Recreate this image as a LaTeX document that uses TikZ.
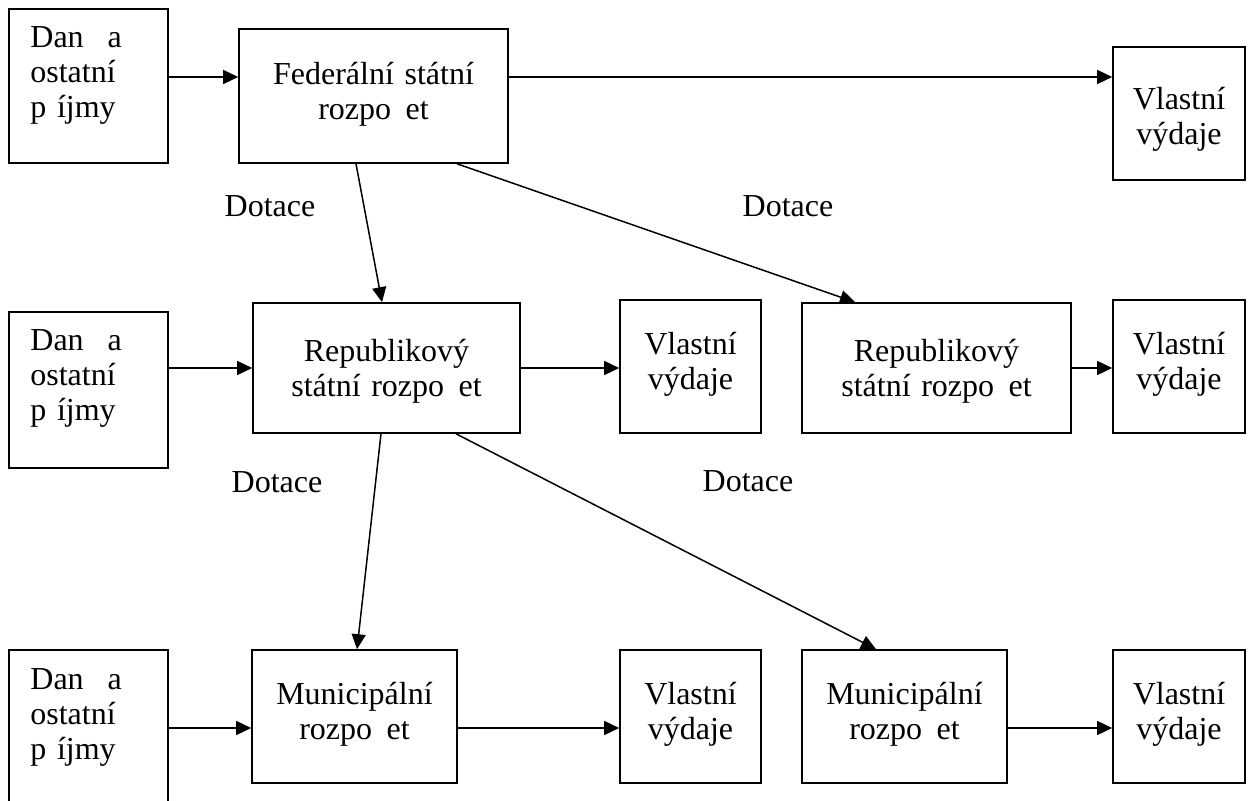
\documentclass[tikz,border=0pt]{standalone}
\usepackage{fontspec}
\setmainfont{Liberation Serif}
\usetikzlibrary{arrows.meta}
\begin{document}
\begin{tikzpicture}[x=0.5pt,y=-0.5pt,
  box/.style 2 args={draw,line width=0.8pt,inner sep=0pt,
    minimum width=#1*0.5pt,minimum height=#2*0.5pt},
  txt/.style={font=\fontsize{16}{17.5}\selectfont,inner sep=0pt,anchor=base},
  ctxt/.style={txt,align=center,text width=#1*0.5pt},
  ltxt/.style={txt,align=left,text width=130pt,anchor=base west},
  flow/.style={line width=0.75pt,-{Triangle[length=7.5pt,width=7pt]}},
]
\clip (0,0) rectangle (1254,801);
\fill[white] (0,0) rectangle (1254,801);

% boxes (centre, width, height in px units)
\node[box={159}{154}] (a1) at (88.5,86) {};
\node[box={269}{134}] (fed) at (373.5,96) {};
\node[box={132}{133}] (v1) at (1179,113.5) {};

\node[box={159}{156}] (a2) at (88.5,390) {};
\node[box={267}{130}] (r1) at (386.5,368) {};
\node[box={141}{133}] (v2) at (690.5,366.5) {};
\node[box={269}{130}] (r2) at (936.5,368) {};
\node[box={132}{133}] (v3) at (1179,366.5) {};

\node[box={159}{190}] (a3) at (88.5,745) {};
\node[box={205}{133}] (m1) at (354.5,716.5) {};
\node[box={141}{133}] (v4) at (690.5,716.5) {};
\node[box={205}{133}] (m2) at (904.5,716.5) {};
\node[box={132}{133}] (v5) at (1179,716.5) {};

% box texts, placed on their first baseline
\node[ltxt] (a1t) at (30,48) {Dan\hspace{.75em}a\\ostatní\\p íjmy};
\node[ltxt] (a2t) at (30,351) {Dan\hspace{.75em}a\\ostatní\\p íjmy};
\node[ltxt] (a3t) at (30,690) {Dan\hspace{.75em}a\\ostatní\\p íjmy};
\node[ctxt=269] (fedt) at (373.5,85) {Federální státní\\rozpo\hspace{.45em}et};
\node[ctxt=132] (v1t) at (1179,110) {Vlastní\\výdaje};
\node[ctxt=267] (r1t) at (386.5,362) {Republikový\\státní rozpo\hspace{.45em}et};
\node[ctxt=141] (v2t) at (690.5,355) {Vlastní\\výdaje};
\node[ctxt=269] (r2t) at (936.5,362) {Republikový\\státní rozpo\hspace{.45em}et};
\node[ctxt=132] (v3t) at (1179,355) {Vlastní\\výdaje};
\node[ctxt=205] (m1t) at (354.5,705) {Municipální\\rozpo\hspace{.45em}et};
\node[ctxt=141] (v4t) at (690.5,705) {Vlastní\\výdaje};
\node[ctxt=205] (m2t) at (904.5,705) {Municipální\\rozpo\hspace{.45em}et};
\node[ctxt=132] (v5t) at (1179,705) {Vlastní\\výdaje};

% labels of the grant arrows
\node[txt] (d1) at (270,217) {Dotace};
\node[txt] (d2) at (788,217) {Dotace};
\node[txt] (d3) at (277,493) {Dotace};
\node[txt] (d4) at (748,492) {Dotace};

% flows
\draw[flow] (a1.east |- 0,77) -- (fed.west |- 0,77);
\draw[flow] (fed.east |- 0,77) -- (v1.west |- 0,77);
\draw[flow] (fed.south -| 356,0) -- (r1.north -| 382,0);
\draw[flow] (fed.south -| 457,0) -- (r2.north -| 855,0);
\draw[flow] (a2.east |- 0,368) -- (r1.west |- 0,368);
\draw[flow] (r1.east |- 0,368) -- (v2.west |- 0,368);
\draw[flow] (r2.east |- 0,368) -- (v3.west |- 0,368);
\draw[flow] (r1.south -| 381,0) -- (m1.north -| 357,0);
\draw[flow] (r1.south -| 456,0) -- (m2.north -| 876,0);
\draw[flow] (a3.east |- 0,728) -- (m1.west |- 0,728);
\draw[flow] (m1.east |- 0,728) -- (v4.west |- 0,728);
\draw[flow] (m2.east |- 0,728) -- (v5.west |- 0,728);
\end{tikzpicture}
\end{document}
